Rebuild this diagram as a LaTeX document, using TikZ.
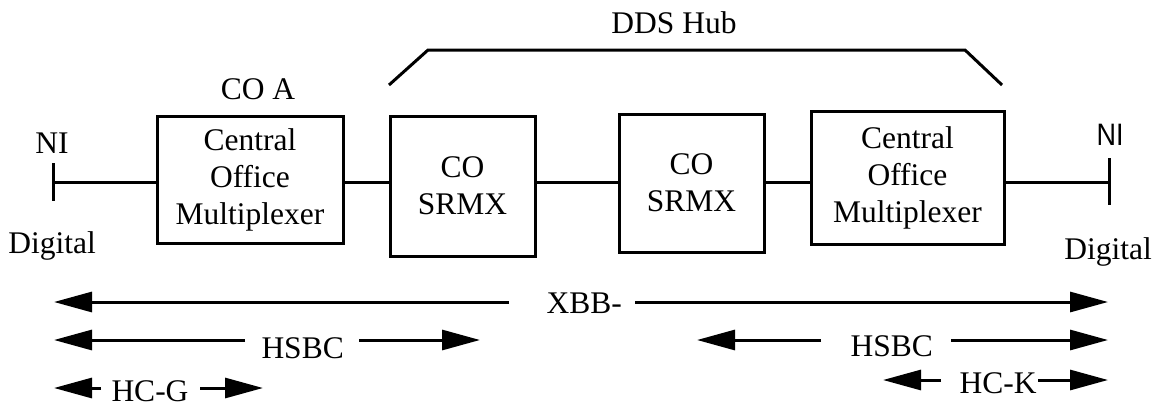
\documentclass[tikz,border=0pt]{standalone}
\usepackage{fontspec}
\setmainfont{Liberation Serif}
\newfontfamily\arialfont[FakeStretch=0.87]{Liberation Sans}
\usetikzlibrary{arrows.meta}
\begin{document}
\begin{tikzpicture}[x=0.5pt,y=-0.5pt,line width=1.5pt,
        txt/.style={font=\fontsize{15.75}{18.5}\selectfont, inner sep=0pt},
        box/.style={draw, rectangle, txt, align=center},
        dimarr/.style={-{Triangle[length=19pt,width=10pt]}, line width=1.5pt}]
        \useasboundingbox (0,0) rectangle (1159,407);
        % Define as caixas
        \node[box, minimum width=93pt, minimum height=63.5pt] (mux1) at (250,179.5) {Central\\Office\\Multiplexer};
        \node[box, minimum width=72.5pt, minimum height=70pt] (srmxA) at (462.5,186) {CO\\SRMX};
        \node[box, minimum width=72.5pt, minimum height=69pt] (srmxB) at (691.5,183) {CO\\SRMX};
        \node[box, minimum width=96.5pt, minimum height=66.5pt] (mux2) at (907.5,177.5) {Central\\Office\\Multiplexer};
        % Pontos NI
        \coordinate (niL) at (53,182);
        \coordinate (niR) at (1109,182);
        \draw (niL) ++(0,-19) -- ++(0,38);
        \draw (niR) ++(0,-24) -- ++(0,47);
        % Conecta caixas
        \draw (niL) -- (niL -| mux1.west);
        \draw (niL -| mux1.east) -- (niL -| srmxA.west);
        \draw (niL -| srmxA.east) -- (niL -| srmxB.west);
        \draw (niL -| srmxB.east) -- (niL -| mux2.west);
        \draw (niL -| mux2.east) -- (niR);
        % DDS Hub
        \draw (389,85) -- (428,50) -- (965,50) -- (1002,85);
        % Textos
        \node[txt, anchor=base] (niLtxt) at (52,153) {NI};
        \node[txt, anchor=base] (digL) at (52,253) {Digital};
        \node[txt, anchor=base] (coa) at (258,99) {CO A};
        \node[txt, anchor=base] (hub) at (674,33) {DDS Hub};
        \node[txt, anchor=base, font=\arialfont\fontsize{15.5}{18}\selectfont] (niRtxt) at (1110,145) {NI};
        \node[txt, anchor=base] (digR) at (1108,259) {Digital};
        % Setas
        \coordinate (xbbL) at (54,302);
        \coordinate (xbbR) at (1108,302);
        \node[txt, anchor=base west] (xbb) at (545,313) {XBB-};
        \draw[dimarr, shorten <=18pt] (xbb.west |- xbbL) -- (xbbL);
        \draw[dimarr, shorten <=6pt] (xbb.east |- xbbR) -- (xbbR);
        \coordinate (hsbcAL) at (54,340);
        \coordinate (hsbcAR) at (480,340);
        \node[txt, anchor=base west] (hsbcA) at (260,358) {HSBC};
        \draw[dimarr, shorten <=7.5pt] (hsbcA.west |- hsbcAL) -- (hsbcAL);
        \draw[dimarr, shorten <=7pt] (hsbcA.east |- hsbcAR) -- (hsbcAR);
        \coordinate (hcgL) at (54,388);
        \coordinate (hcgR) at (263,388);
        \node[txt, anchor=base west] (hcg) at (110,401) {HC-G};
        \draw[dimarr, shorten <=4.5pt] (hcg.west |- hcgL) -- (hcgL);
        \draw[dimarr, shorten <=5pt] (hcg.east |- hcgR) -- (hcgR);
        \coordinate (hsbcBL) at (697,340);
        \coordinate (hsbcBR) at (1108,340);
        \node[txt, anchor=base west] (hsbcB) at (849,356) {HSBC};
        \draw[dimarr, shorten <=14pt] (hsbcB.west |- hsbcBL) -- (hsbcBL);
        \draw[dimarr, shorten <=8.5pt] (hsbcB.east |- hsbcBR) -- (hsbcBR);
        \coordinate (hckL) at (883,380);
        \coordinate (hckR) at (1108,380);
        \node[txt, anchor=base west] (hck) at (958,393) {HC-K};
        \draw[dimarr, shorten <=8.5pt] (hck.west |- hckL) -- (hckL);
        \draw[dimarr] (hck.east |- hckR) -- (hckR);
    \end{tikzpicture}
\end{document}
